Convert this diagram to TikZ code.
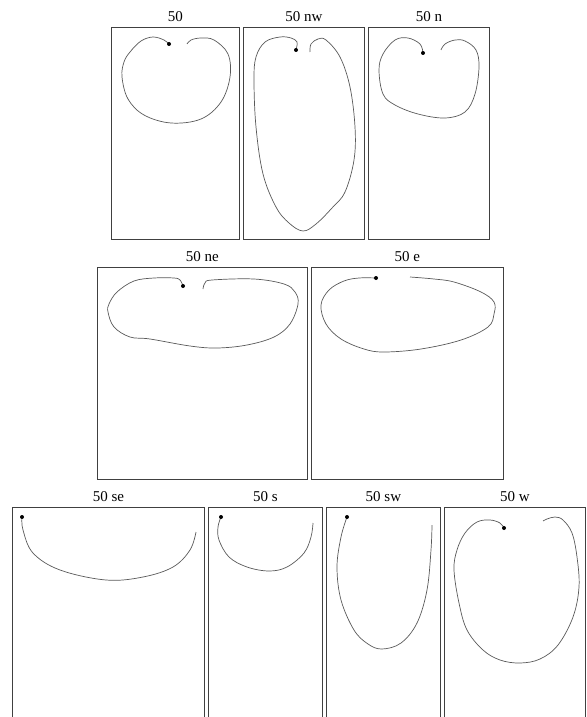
\documentclass[tikz,border=0pt]{standalone}
\usepackage{fontspec}
\setmainfont{Liberation Serif}
\usetikzlibrary{positioning}
\tikzset{
  panelbox/.style={draw=black!75, line width=0.8pt, inner sep=0pt, anchor=north west},
  paneltitle/.style={font=\fontsize{15}{17}\selectfont, inner sep=0pt, above=5pt},
  trace/.style={draw=black!65, line width=0.7pt},
  startdot/.style={fill=black}
}
\begin{document}
\begin{tikzpicture}[x=1pt, y=-1pt]
  \useasboundingbox (0,0) rectangle (586,717);
  % top row
  \node[panelbox, minimum width=128pt, minimum height=212pt] (pan50) at (111,27) {};
  \node[panelbox, minimum width=121pt, minimum height=212pt] (pannw) at (243,27) {};
  \node[panelbox, minimum width=121pt, minimum height=212pt] (pann) at (368,27) {};
  \node[paneltitle] at (pan50.north) {50};
  \node[paneltitle] at (pannw.north) {50 nw};
  \node[paneltitle] at (pann.north) {50 n};
  % middle row
  \node[panelbox, minimum width=210pt, minimum height=212pt] (panne) at (97,267) {};
  \node[panelbox, minimum width=192pt, minimum height=212pt] (pane) at (311,267) {};
  \node[paneltitle] at (panne.north) {50 ne};
  \node[paneltitle] at (pane.north) {50 e};
  % bottom row, cut by the page edge
  \node[panelbox, minimum width=192pt, minimum height=220pt] (panse) at (12,507) {};
  \node[panelbox, minimum width=114pt, minimum height=220pt] (pans) at (208,507) {};
  \node[panelbox, minimum width=114pt, minimum height=220pt] (pansw) at (326,507) {};
  \node[panelbox, minimum width=141pt, minimum height=220pt] (panw) at (444,507) {};
  \node[paneltitle] at (panse.north) {50 se};
  \node[paneltitle] at (pans.north) {50 s};
  \node[paneltitle] at (pansw.north) {50 sw};
  \node[paneltitle] at (panw.north) {50 w};
  % traces
  \draw[trace] plot[smooth, tension=0.6] coordinates {(169,44) (164,40) (153,37) (141,41) (130,52) (124,62) (122,77) (128,99) (144,115) (171,123) (201,119) (221,102) (230,77) (228,54) (214,40) (201,38) (191,40) (187,44)};
  \fill[startdot] (169,44) circle (2);
  \draw[trace] plot[smooth, tension=0.6] coordinates {(296,50) (297,42) (291,38) (280,37) (265,42) (256,57) (254,80) (256,127) (263,174) (276,207) (289,223) (303,231) (316,224) (332,208) (345,192) (354,160) (355,127) (350,87) (340,57) (326,40) (318,39) (311,44) (310,52)};
  \fill[startdot] (296,50) circle (2);
  \draw[trace] plot[smooth, tension=0.6] coordinates {(423,53) (420,44) (408,38) (395,40) (383,54) (379,70) (383,94) (395,105) (418,114) (445,118) (465,112) (475,94) (479,67) (476,50) (465,41) (455,40) (445,44) (441,50)};
  \fill[startdot] (423,53) circle (2);
  \draw[trace] plot[smooth, tension=0.6] coordinates {(183,286) (180,280) (174,278) (154,278) (134,281) (117,292) (109,304) (108,312) (114,327) (130,337) (150,339) (190,346) (217,348) (247,345) (274,337) (290,324) (298,304) (295,292) (284,284) (254,279) (212,280) (205,283) (203,289)};
  \fill[startdot] (183,286) circle (2);
  \draw[trace] plot[smooth, tension=0.6] coordinates {(376,278) (359,278) (344,281) (329,290) (321,305) (326,324) (341,339) (364,349) (384,352) (421,349) (461,340) (488,327) (494,314) (494,302) (481,292) (454,282) (434,279) (410,277)};
  \fill[startdot] (376,278) circle (2);
  \draw[trace] plot[smooth, tension=0.6] coordinates {(22,517) (23,530) (33,553) (60,570) (106,580) (143,577) (173,567) (190,550) (196,532)};
  \fill[startdot] (22,517) circle (2);
  \draw[trace] plot[smooth, tension=0.6] coordinates {(221,517) (218,527) (219,540) (229,557) (247,567) (269,571) (287,567) (304,553) (311,537) (313,523)};
  \fill[startdot] (221,517) circle (2);
  \draw[trace] plot[smooth, tension=0.6] coordinates {(347,517) (341,537) (337,567) (341,600) (354,630) (368,644) (382,649) (401,643) (417,623) (427,590) (431,550) (432,525)};
  \fill[startdot] (347,517) circle (2);
  \draw[trace] plot[smooth, tension=0.6] coordinates {(504,528) (500,523) (490,520) (477,522) (465,533) (457,550) (454,570) (459,603) (467,630) (483,650) (500,660) (520,663) (540,659) (558,645) (573,617) (579,587) (577,557) (572,533) (563,520) (555,517) (547,519) (543,521)};
  \fill[startdot] (504,528) circle (2);
\end{tikzpicture}
\end{document}
